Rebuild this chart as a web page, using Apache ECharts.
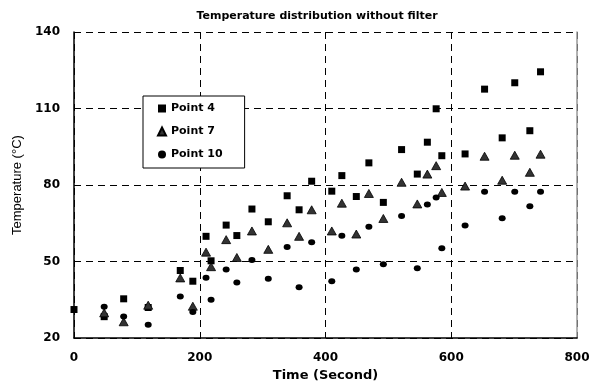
<!DOCTYPE html>
<html>
<head>
<meta charset="utf-8">
<script src="https://cdn.jsdelivr.net/npm/echarts@6/dist/echarts.min.js"></script>
<style>
html,body{margin:0;padding:0;background:#fff;}
#chart{width:597px;height:387px;}
</style>
</head>
<body>
<div id="chart"></div>
<script>
const times = [0,48,79,118,169,189,210,218,242,259,283,309,339,358,378,410,426,449,469,492,521,546,562,576,585,622,653,681,701,725,742];
const point4 = [31.2,28.4,35.4,32.0,46.5,42.3,59.9,50.3,64.3,60.2,70.6,65.6,75.8,70.3,81.5,77.6,83.7,75.5,88.7,73.2,93.9,84.3,96.8,109.9,91.5,92.2,117.6,98.5,120.1,101.3,124.4];
const point7 = [null,29.9,26.4,32.9,43.6,32.5,53.7,48.0,58.6,51.6,62.0,54.8,65.2,59.9,70.3,62.0,72.9,60.8,76.7,66.9,81.1,72.6,84.3,87.6,77.1,79.6,91.3,81.9,91.7,85.0,92.1];
const point10 = [null,32.3,28.5,25.2,36.3,30.2,43.7,35.0,46.9,41.8,50.6,43.3,55.7,39.9,57.6,42.3,60.1,46.9,63.7,49.0,67.9,47.4,72.4,75.1,55.2,64.1,77.4,67.0,77.4,71.7,77.4];
const seriesNames = ['Point 4','Point 7','Point 10'];
const xTicks = {min:0,max:800,interval:200};
const yTicks = {min:20,max:140,interval:30};

function pairs(vals){
  const out=[];
  for(let i=0;i<times.length;i++){ if(vals[i]!==null) out.push([times[i],vals[i]]); }
  return out;
}

const chart = echarts.init(document.getElementById('chart'), null, {renderer:'canvas'});
const tickFont = {color:'#000',fontFamily:'DejaVu Sans',fontWeight:'bold',fontSize:12};
chart.setOption({
  animation:false,
  backgroundColor:'#fff',
  title:{
    text:'Temperature distribution without filter',
    left:312, top:6, textAlign:'center',
    textStyle:{fontFamily:'DejaVu Sans',fontWeight:'bold',fontSize:11,color:'#000'}
  },
  legend:{
    orient:'vertical', left:143, top:96,
    padding:[7,22,8,14], itemGap:12, itemWidth:8, itemHeight:8,
    backgroundColor:'#fff', borderColor:'#000', borderWidth:1,
    textStyle:{fontFamily:'DejaVu Sans',fontWeight:'bold',fontSize:11,color:'#000'},
    data:seriesNames
  },
  grid:{left:74, right:20, top:32, bottom:41, show:false},
  xAxis:{
    type:'value', min:xTicks.min, max:xTicks.max, interval:xTicks.interval,
    name:'Time (Second)', nameLocation:'middle', nameGap:23,
    nameTextStyle:{fontFamily:'DejaVu Sans',fontWeight:'bold',fontSize:13,color:'#000'},
    axisLine:{show:true,lineStyle:{color:'#000',width:1.5}},
    axisTick:{show:false},
    axisLabel:Object.assign({margin:14},tickFont),
    splitLine:{show:true,lineStyle:{color:'#000',type:[7,5],width:1}}
  },
  yAxis:[{
    type:'value', min:yTicks.min, max:yTicks.max, interval:yTicks.interval,
    name:'Temperature (°C)', nameLocation:'middle', nameGap:44, nameRotate:90,
    nameTextStyle:{fontFamily:'Liberation Sans',fontSize:13,color:'#000'},
    axisLine:{show:true,lineStyle:{color:'#000',width:1.5}},
    axisTick:{show:false},
    axisLabel:Object.assign({margin:14},tickFont),
    splitLine:{show:true,lineStyle:{color:'#000',type:[7,5],width:1}}
  },{
    type:'value', min:yTicks.min, max:yTicks.max, interval:yTicks.interval, position:'right',
    axisLine:{show:true,lineStyle:{color:'#999',width:1.5}},
    axisTick:{show:false}, axisLabel:{show:false}, splitLine:{show:false}
  }],
  series:[
    {name:seriesNames[0], type:'scatter', symbol:'rect', symbolSize:7, data:pairs(point4),
     itemStyle:{color:'#000',opacity:1}},
    {name:seriesNames[1], type:'scatter', symbol:'triangle', symbolSize:[9,8], data:pairs(point7),
     itemStyle:{color:'#333',borderColor:'#000',borderWidth:0.8,opacity:1}},
    {name:seriesNames[2], type:'scatter', symbol:'circle', symbolSize:[7,6], data:pairs(point10),
     itemStyle:{color:'#000',opacity:1}}
  ]
});
</script>
</body>
</html>
